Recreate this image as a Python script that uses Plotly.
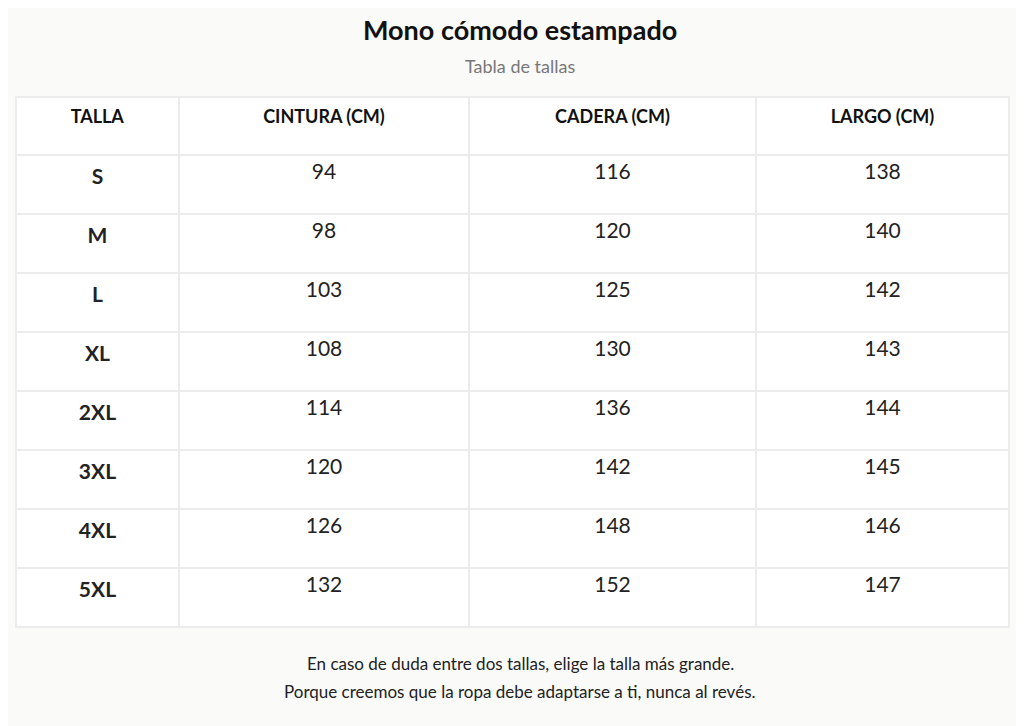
import plotly.graph_objects as go

# table data
header = ["TALLA", "CINTURA (CM)", "CADERA (CM)", "LARGO (CM)"]
tallas = ["S", "M", "L", "XL", "2XL", "3XL", "4XL", "5XL"]
cintura = [94, 98, 103, 108, 114, 120, 126, 132]
cadera = [116, 120, 125, 130, 136, 142, 148, 152]
largo = [138, 140, 142, 143, 144, 145, 146, 147]

W, H = 1024, 726
font = "Lato"

fig = go.Figure(go.Table(
    domain=dict(x=[8 / W, 1001 / W], y=[0, 1 - 89 / H]),
    columnwidth=[163, 290, 287, 253],
    header=dict(
        values=["<b>%s</b>" % h for h in header],
        height=58, align="center",
        fill_color="white", line=dict(color="#ececec", width=2),
        font=dict(family=font, size=18, color="#111111"),
    ),
    cells=dict(
        values=[["<b>%s</b>" % t for t in tallas], cintura, cadera, largo],
        height=59, align="center",
        fill_color="white", line=dict(color="#ececec", width=2),
        font=dict(family=font, size=21, color="#222222"),
    ),
))

fig.add_annotation(x=0.5, y=1 - 3 / H, xref="paper", yref="paper", showarrow=False,
                   text="<b>Mono cómodo estampado</b>",
                   font=dict(family=font, size=27, color="#111111"))
fig.add_annotation(x=0.5, y=1 - 45 / H, xref="paper", yref="paper", showarrow=False,
                   text="Tabla de tallas", font=dict(family=font, size=18, color="#777777"))
fig.add_annotation(x=0.5, y=1 - 668 / H, xref="paper", yref="paper", showarrow=False,
                   text="En caso de duda entre dos tallas, elige la talla más grande.",
                   font=dict(family=font, size=17, color="#222222"))
fig.add_annotation(x=0.5, y=1 - 696 / H, xref="paper", yref="paper", showarrow=False,
                   text="Porque creemos que la ropa debe adaptarse a ti, nunca al revés.",
                   font=dict(family=font, size=17, color="#222222"))

fig.update_layout(width=W, height=H, margin=dict(l=0, r=0, t=0, b=0),
                  paper_bgcolor="#fafaf9", plot_bgcolor="#fafaf9")

fig.write_html("out.html")
